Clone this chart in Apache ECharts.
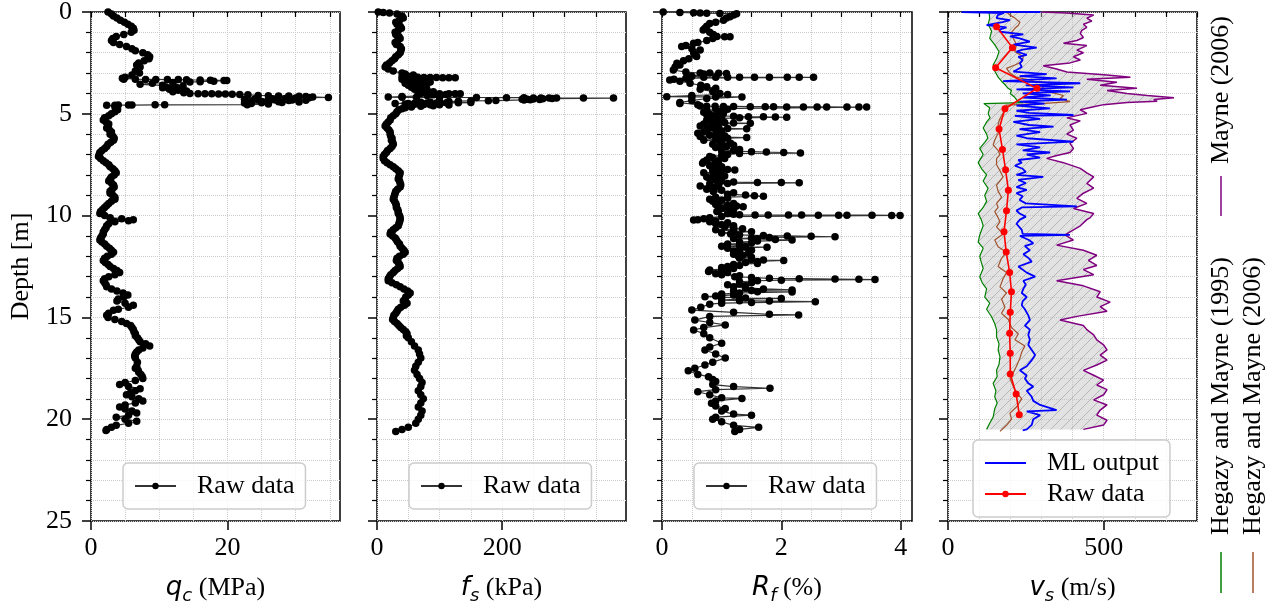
<!DOCTYPE html>
<html><head><meta charset="utf-8">
<script src="https://cdn.jsdelivr.net/npm/echarts@6/dist/echarts.min.js"></script>
<style>html,body{margin:0;padding:0;background:#fff}#c{width:1277px;height:610px}</style>
</head><body><div id="c"></div>
<script>
// ---------- DATA : [depth (m), value] ----------
const qcData = [[0.0,2.5],[0.1,3.0],[0.2,3.3],[0.3,3.8],[0.4,4.3],[0.5,4.9],[0.6,5.4],[0.7,5.9],[0.8,6.2],[0.9,6.3],[1.0,5.9],[1.1,4.8],[1.2,3.7],[1.3,3.2],[1.4,3.0],[1.5,3.3],[1.6,4.2],[1.7,5.2],[1.8,6.0],[1.9,6.5],[2.0,7.6],[2.1,8.3],[2.2,8.6],[2.3,8.5],[2.4,7.8],[2.5,7.0],[2.6,6.7],[2.7,7.2],[2.8,6.9],[2.9,6.5],[3.0,7.1],[3.1,6.0],[3.2,5.0],[3.25,4.6],
[3.3,4.8],[3.3,6.5],[3.31,8.0],[3.31,9.5],[3.32,11.2],[3.32,12.8],[3.33,14.0],[3.34,16.0],[3.35,17.5],[3.36,19.5],[3.37,19.9],[3.4,18.0],[3.42,16.0],[3.44,14.5],[3.46,12.0],[3.5,9.0],[3.55,7.2],[3.6,10.5],[3.62,12.0],[3.64,13.5],[3.68,11.0],[3.7,12.5],[3.72,10.5],[3.76,13.0],[3.8,11.5],[3.84,12.8],[3.88,14.0],[3.92,12.0],[3.96,13.6],[4.0,14.5],[4.01,15.7],[4.02,16.7],[4.02,17.7],[4.03,18.7],[4.03,19.7],[4.04,20.7],[4.05,21.8],[4.06,23.0],[4.1,24.5],[4.11,26.0],[4.12,27.5],[4.13,29.0],[4.14,30.5],[4.15,31.5],[4.17,32.5],[4.2,34.8],[4.21,32.0],[4.22,30.0],[4.25,28.5],[4.26,26.5],[4.27,24.0],[4.28,22.5],[4.3,24.5],[4.31,27.0],[4.32,29.5],[4.33,31.5],[4.35,29.0],[4.36,26.0],[4.37,23.5],[4.4,25.0],[4.41,27.5],[4.42,30.5],[4.45,28.0],[4.46,25.0],[4.47,22.5],[4.5,23.5],[4.52,26.0],[4.55,22.9],[4.56,10.8],[4.56,9.4],[4.57,6.0],[4.57,5.5],[4.57,4.0],[4.58,3.5],[4.58,2.3],[4.65,3.5],[4.7,3.8],[4.8,3.9],[4.9,3.5],
[5.0,3.0],[5.1,2.6],[5.2,2.0],[5.3,1.8],[5.4,2.2],[5.5,2.6],[5.6,2.5],[5.7,2.3],[5.8,2.7],[5.9,3.0],[6.0,2.8],[6.1,3.2],[6.2,3.4],[6.3,3.3],[6.4,2.9],[6.5,2.5],[6.6,2.3],[6.7,2.0],[6.8,1.6],[6.9,1.3],[7.0,1.2],[7.1,1.1],[7.2,1.4],[7.3,1.8],[7.4,2.2],[7.5,2.6],[7.6,2.8],[7.7,3.2],[7.8,3.5],[7.9,3.7],[8.0,3.4],[8.1,3.0],[8.2,2.8],[8.3,2.6],[8.4,3.0],[8.5,3.3],[8.6,3.4],[8.7,3.1],[8.8,2.8],[8.9,2.8],[9.0,3.2],[9.1,3.5],[9.2,3.5],[9.3,3.0],[9.4,2.6],[9.5,2.3],[9.6,2.0],[9.7,1.7],[9.8,1.4],[9.9,1.3],[10.0,2.0],[10.1,2.8],[10.15,4.5],[10.2,6.2],[10.25,5.5],[10.3,3.5],[10.4,2.6],[10.5,2.3],[10.6,2.2],[10.7,2.0],[10.8,1.8],[10.9,1.8],[11.0,1.6],[11.1,1.4],[11.2,1.3],[11.3,1.6],[11.4,2.0],[11.5,2.3],[11.6,2.7],[11.7,3.0],[11.8,3.3],[11.9,3.0],[12.0,2.4],[12.1,2.0],[12.2,1.8],[12.3,2.1],[12.4,2.5],[12.5,2.8],[12.6,3.3],[12.7,3.8],[12.8,4.2],[12.9,3.5],[13.0,2.6],[13.1,2.0],[13.2,1.8],[13.3,2.0],[13.4,2.2],[13.5,2.3],[13.6,3.0],[13.7,3.8],[13.8,4.7],[13.9,5.4],[14.0,4.8],[14.1,4.0],[14.2,3.8],[14.3,5.0],[14.4,6.2],[14.5,5.5],[14.6,4.0],[14.65,3.3],[14.8,2.6],[14.9,2.3],[15.0,2.5],[15.1,3.5],[15.2,4.5],[15.3,5.2],[15.4,5.8],[15.5,6.0],[15.6,6.2],[15.7,6.3],[15.8,6.5],[15.9,6.5],[16.0,6.8],[16.1,7.0],[16.2,7.2],[16.3,8.0],[16.4,8.6],[16.5,7.6],[16.6,7.0],[16.7,6.7],[16.8,6.5],[16.9,6.4],[17.0,6.5],[17.2,6.8],[17.4,6.7],[17.5,6.5],[17.6,6.9],[17.7,7.0],[17.8,7.3],[17.9,7.5],[18.0,7.6],[18.1,6.5],[18.2,5.0],[18.3,4.2],[18.4,5.5],[18.5,7.2],[18.6,6.5],[18.7,5.8],[18.8,5.2],[18.9,6.0],[19.0,7.0],[19.1,7.6],[19.2,6.5],[19.3,5.0],[19.4,4.2],[19.5,5.0],[19.6,6.0],[19.7,6.7],[19.8,5.5],[19.9,3.7],[20.0,5.0],[20.1,6.7],[20.2,5.5],[20.3,3.7],[20.4,3.0],[20.5,2.3],[20.55,2.2]];

const fsData = [[0.0,2],[0.02,10],[0.05,20],[0.1,32],[0.2,40],[0.3,42],[0.4,36],[0.5,30],[0.6,32],[0.7,37],[0.8,39],[0.9,34],[1.0,29],[1.1,30],[1.2,35],[1.3,37],[1.4,33],[1.5,29],[1.6,31],[1.7,37],[1.8,39],[1.9,38],[2.0,37],[2.1,34],[2.2,30],[2.3,28],[2.4,24],[2.5,20],[2.6,15],[2.7,13],[2.8,18],[2.9,26],
[3.0,40],[3.05,45],[3.1,58],[3.15,50],[3.18,40],[3.2,45],[3.21,55],[3.21,65],[3.22,75],[3.22,85],[3.22,95],[3.23,105],[3.23,115],[3.23,125],[3.27,60],[3.3,40],[3.32,60],[3.34,50],[3.36,75],[3.38,45],[3.4,55],[3.42,70],[3.44,85],[3.46,60],[3.5,45],[3.52,65],[3.54,80],[3.56,55],[3.6,50],[3.62,70],[3.64,60],[3.7,55],[3.72,75],[3.74,65],[3.8,60],[3.82,80],[3.84,70],[3.9,65],[3.92,90],[3.94,75],[4.0,70],[4.0,85],[4.01,100],[4.01,115],[4.02,125],[4.02,133],[4.05,110],[4.07,90],[4.1,80],[4.15,40],[4.18,18],[4.19,40],[4.19,63],[4.2,100],[4.2,159],[4.21,207],[4.21,235],[4.22,250],[4.22,262],[4.22,275],[4.23,287],[4.23,330],[4.23,378],[4.25,280],[4.26,265],[4.27,250],[4.28,240],[4.29,232],[4.3,260],[4.31,245],[4.32,235],[4.35,190],[4.36,178],[4.37,150],[4.38,130],[4.4,115],[4.41,100],[4.42,85],[4.43,70],[4.45,150],[4.46,130],[4.46,111],[4.47,95],[4.47,80],[4.48,60],[4.49,29],[4.5,50],[4.52,45],[4.53,60],[4.54,75],[4.55,85],[4.56,100],[4.57,115],[4.6,90],[4.63,70],[4.66,55],[4.7,45],[4.75,40],[4.8,35],[4.9,32],[5.0,30],
[5.1,26],[5.2,22],[5.3,21],[5.4,18],[5.5,15],[5.6,13],[5.7,16],[5.8,19],[5.9,21],[6.0,21],[6.1,22],[6.2,24],[6.3,23],[6.4,25],[6.5,26],[6.6,24],[6.7,21],[6.8,17],[6.9,15],[7.0,12],[7.1,10],[7.2,10],[7.3,12],[7.4,16],[7.5,21],[7.6,26],[7.7,30],[7.8,34],[7.9,37],[8.0,36],[8.1,35],[8.2,34],[8.3,36],[8.4,37],[8.5,38],[8.6,37],[8.7,33],[8.8,30],[8.9,29],[9.0,28],[9.1,27],[9.2,26],[9.3,28],[9.4,30],[9.5,31],[9.6,31],[9.7,33],[9.8,34],[9.9,34],[10.0,36],[10.1,37],[10.2,37],[10.3,36],[10.4,35],[10.5,34],[10.6,30],[10.7,26],[10.8,22],[10.9,21],[11.0,25],[11.1,29],[11.2,31],[11.3,33],[11.4,36],[11.5,37],[11.6,40],[11.7,43],[11.8,45],[11.9,42],[12.0,36],[12.1,32],[12.2,31],[12.3,34],[12.4,36],[12.5,37],[12.6,33],[12.7,29],[12.8,26],[12.9,22],[13.0,20],[13.1,18],[13.2,18],[13.3,24],[13.4,31],[13.5,37],[13.6,43],[13.7,49],[13.8,53],[13.9,50],[14.0,46],[14.1,45],[14.2,42],[14.3,48],[14.4,44],[14.5,38],[14.6,34],[14.7,32],[14.8,30],[14.9,27],[15.0,26],[15.1,25],[15.2,28],[15.3,32],[15.4,35],[15.5,38],[15.6,42],[15.7,46],[15.8,48],[15.9,47],[16.0,50],[16.2,55],[16.4,60],[16.6,66],[16.8,68],[17.0,70],[17.2,66],[17.4,62],[17.6,60],[17.8,64],[18.0,68],[18.2,72],[18.4,70],[18.6,66],[18.8,70],[19.0,74],[19.2,70],[19.4,66],[19.6,72],[19.8,70],[20.0,66],[20.2,62],[20.4,50],[20.5,40],[20.6,30]];

const rfData = [[0.0,0.02],[0.02,0.3],[0.04,0.53],[0.05,0.64],[0.06,0.75],[0.07,0.97],[0.08,1.25],[0.15,1.2],[0.23,1.14],[0.3,1.08],[0.4,1.03],[0.5,0.9],[0.56,0.8],[0.7,0.75],[0.8,0.72],[0.88,0.69],[1.0,0.8],[1.1,0.86],[1.2,0.92],[1.21,1.05],[1.22,1.14],[1.3,0.85],[1.4,0.75],[1.5,0.6],[1.54,0.53],[1.65,0.4],[1.7,0.33],[1.8,0.5],[1.87,0.64],[2.0,0.53],[2.1,0.55],[2.19,0.58],[2.3,0.45],[2.4,0.36],[2.52,0.25],[2.6,0.3],[2.7,0.22],[2.85,0.19],[2.95,0.4],[3.0,0.64],[3.0,0.8],[3.01,0.95],[3.02,1.08],[3.05,0.7],[3.15,0.5],
[3.2,0.47],[3.21,0.7],[3.21,0.9],[3.21,1.1],[3.21,1.3],[3.21,1.55],[3.21,1.8],[3.21,2.1],[3.21,2.3],[3.21,2.54],[3.25,0.4],[3.3,0.2],[3.34,0.13],[3.4,0.3],[3.5,0.47],[3.6,0.65],[3.67,0.75],[3.75,0.9],[3.8,0.64],[3.9,0.85],[4.0,0.97],[4.05,1.1],[4.1,0.5],[4.16,0.08],[4.17,0.5],[4.17,0.9],[4.17,1.34],[4.25,0.75],[4.35,0.5],[4.45,0.3],[4.49,0.3],[4.55,0.6],
[4.62,0.64],[4.63,0.75],[4.63,0.89],[4.64,1.03],[4.64,1.2],[4.65,1.48],[4.65,1.73],[4.65,1.87],[4.66,2.09],[4.66,2.37],[4.66,2.6],[4.66,2.76],[4.67,3.1],[4.67,3.3],[4.67,3.43],
[4.75,0.9],[4.78,1.1],[4.81,0.75],[4.85,1.0],[4.9,0.95],[4.93,0.7],[4.98,1.03],[5.02,0.8],[5.05,0.75],[5.1,0.9],[5.12,1.2],[5.14,1.45],[5.15,1.7],[5.16,1.9],[5.17,2.09],[5.2,1.3],[5.22,1.0],[5.26,0.8],[5.3,0.75],[5.34,1.0],[5.38,0.8],[5.4,0.9],[5.43,1.05],[5.45,1.2],[5.47,1.48],[5.5,0.7],[5.55,0.9],[5.6,0.64],[5.65,0.95],[5.7,0.8],[5.72,1.1],[5.74,1.42],[5.77,0.9],[5.8,0.75],[5.85,1.0],[5.9,0.7],[5.96,0.6],[6.0,0.9],[6.05,0.8],[6.08,1.05],[6.12,0.64],[6.15,1.0],[6.17,1.42],[6.2,1.1],[6.25,0.9],[6.3,0.7],[6.35,1.0],[6.4,0.97],[6.45,1.15],[6.5,0.85],[6.55,1.2],[6.6,1.08],[6.65,0.9],[6.7,1.0],[6.75,1.3],[6.8,1.2],[6.83,1.0],[6.86,1.5],[6.88,1.75],[6.9,2.04],[6.93,2.32],[6.95,1.3],[7.0,1.1],[7.05,1.0],[7.1,0.8],[7.15,0.85],[7.2,1.05],[7.27,0.75],[7.3,0.95],[7.35,0.7],[7.4,0.9],[7.43,0.68],[7.5,0.95],[7.55,0.8],[7.6,1.0],[7.65,0.85],[7.7,0.9],[7.73,1.1],[7.76,1.22],[7.8,0.85],[7.85,1.0],[7.9,0.7],[7.95,0.95],[8.0,0.86],[8.05,1.05],[8.1,0.75],[8.15,0.95],[8.2,0.8],[8.25,0.9],[8.3,1.0],[8.35,1.2],[8.37,1.6],[8.38,2.0],[8.39,2.3],[8.42,1.1],[8.45,0.8],[8.5,0.95],[8.55,0.64],[8.6,0.9],[8.65,0.8],[8.7,0.75],[8.75,1.0],[8.82,0.86],[8.88,1.2],[8.95,1.1],[8.99,1.4],[9.02,1.55],[9.05,1.7],[9.1,0.9],[9.15,1.1],[9.2,0.8],[9.25,1.0],[9.3,0.85],[9.35,0.95],[9.4,1.2],[9.45,0.9],[9.5,1.1],[9.53,1.25],[9.56,1.36],[9.6,1.1],[9.65,1.0],[9.7,1.2],[9.75,0.95],[9.8,0.92],[9.85,1.15],[9.9,1.1],[9.93,1.2],
[9.96,1.3],[9.97,1.56],[9.97,1.78],[9.97,2.12],[9.97,2.34],[9.98,2.62],[9.98,2.96],[9.98,3.1],[9.98,3.52],[9.99,3.85],[9.99,3.99],
[10.05,1.0],[10.1,0.8],[10.15,0.7],[10.2,0.6],[10.22,0.53],[10.26,0.9],[10.3,0.8],[10.35,1.1],[10.4,0.9],[10.45,1.0],[10.5,1.2],[10.55,1.05],[10.6,1.2],[10.65,1.35],[10.7,0.9],[10.75,1.2],[10.79,1.5],[10.82,1.2],[10.85,1.0],[10.9,1.15],[10.95,1.3],[10.98,1.7],[11.0,2.1],[11.02,2.5],[11.04,2.9],[11.07,1.8],[11.1,1.5],[11.13,1.2],[11.15,1.6],[11.18,1.9],[11.2,2.18],[11.25,1.6],[11.3,1.3],[11.35,1.5],[11.4,1.1],[11.45,1.3],[11.5,1.0],[11.53,1.4],[11.55,1.76],[11.6,1.1],[11.65,1.3],[11.7,1.5],[11.75,1.2],[11.8,1.3],[11.85,1.45],[11.9,1.2],[11.95,1.35],[12.0,1.28],[12.05,1.5],[12.1,1.3],[12.15,1.5],[12.18,1.7],[12.2,2.04],[12.25,1.6],[12.3,1.4],[12.35,1.6],[12.4,1.2],[12.45,1.3],[12.5,1.1],[12.55,1.0],[12.6,1.2],[12.67,0.8],[12.72,1.0],[12.75,0.78],[12.8,1.1],[12.85,0.9],[12.9,1.0],[12.95,1.3],[13.0,1.22],[13.04,1.5],[13.08,1.8],[13.1,2.3],[13.12,2.9],[13.13,3.3],[13.14,3.57],[13.17,2.0],[13.2,1.6],[13.25,1.3],[13.3,1.5],[13.35,1.3],[13.4,1.1],[13.45,1.4],[13.5,1.2],[13.55,1.4],[13.6,1.7],[13.65,2.18],[13.68,1.5],[13.7,1.2],[13.74,1.6],[13.75,2.18],[13.8,1.3],[13.85,1.0],[13.9,1.2],[13.95,0.9],[13.98,0.72],[14.0,1.0],[14.05,1.4],[14.07,2.0],[14.1,1.3],[14.15,1.0],[14.18,1.3],[14.2,1.8],[14.23,2.57],[14.27,1.5],[14.3,1.0],[14.35,0.8],
[14.5,0.65],[14.64,0.5],[14.75,1.2],[14.85,1.8],[14.88,2.29],[14.95,0.8],[15.13,0.55],[15.25,0.8],[15.37,1.06],[15.5,0.7],[15.62,0.53],[15.8,0.7],[16.0,0.8],[16.27,1.0],[16.45,0.8],[16.6,0.72],[16.8,0.9],[17.0,1.06],[17.2,0.85],[17.34,0.72],[17.5,0.55],[17.62,0.44],[17.8,0.6],[17.91,0.78],[18.05,0.85],[18.15,0.9],[18.3,0.85],[18.4,1.2],[18.48,1.81],[18.55,0.9],[18.65,0.6],[18.8,0.8],[18.95,1.0],[18.98,1.34],[19.1,0.9],[19.22,0.83],[19.35,0.9],[19.47,1.06],[19.6,1.0],[19.75,1.2],[19.8,1.5],[19.9,0.9],[20.0,0.85],[20.13,1.0],[20.3,1.2],[20.4,1.62],[20.5,1.3],[20.6,1.22]];

const vsHegazy1995 = [[0,132],[0.3,134],[0.6,129],[0.95,140],[1.3,134],[1.6,150],[1.95,164],[2.3,156],[2.6,145],[2.9,150],[3.2,161],[3.4,172],[3.6,185],[3.75,193],[3.85,204],[4.0,200],[4.2,215],[4.4,225],[4.45,242],[4.5,115],[4.7,134],[5.0,129],[5.2,135],[5.4,124],[5.7,113],[6.0,124],[6.2,128],[6.4,118],[6.7,102],[7.0,113],[7.2,105],[7.4,97],[7.7,108],[8.0,124],[8.3,113],[8.66,129],[9.0,118],[9.3,124],[9.6,113],[9.9,97],[10.2,107],[10.5,113],[10.95,102],[11.3,97],[11.6,113],[12.0,102],[12.3,107],[12.6,113],[13.0,102],[13.3,110],[13.6,124],[14.0,118],[14.3,134],[14.6,124],[14.97,140],[15.3,150],[15.6,156],[15.95,156],[16.3,164],[16.6,161],[16.93,167],[17.3,164],[17.6,156],[17.9,158],[18.24,145],[18.6,154],[18.9,150],[19.2,158],[19.5,150],[19.9,145],[20.2,134],[20.5,124]];

const vsHegazy2006 = [[0,188],[0.15,199],[0.3,215],[0.5,231],[0.65,226],[0.8,215],[1.0,204],[1.3,210],[1.6,220],[1.95,215],[2.2,242],[2.45,237],[2.6,215],[2.77,188],[3.0,199],[3.2,220],[3.4,280],[3.5,333],[3.65,310],[3.8,296],[3.95,330],[4.1,371],[4.25,360],[4.4,392],[4.5,300],[4.57,188],[4.8,183],[5.1,172],[5.3,165],[5.55,161],[5.8,167],[6.1,156],[6.3,150],[6.53,145],[6.8,161],[7.0,167],[7.2,156],[7.5,156],[7.8,167],[8.1,177],[8.3,167],[8.5,156],[8.8,161],[9.1,172],[9.4,156],[9.6,161],[9.8,150],[10.1,161],[10.3,167],[10.55,156],[10.9,177],[11.2,150],[11.53,161],[11.8,188],[12.1,172],[12.5,161],[12.8,188],[13.1,177],[13.5,167],[13.8,188],[14.1,172],[14.5,183],[14.8,172],[15.1,194],[15.5,204],[15.8,226],[16.1,215],[16.4,247],[16.7,237],[17.0,231],[17.4,220],[17.7,210],[18.0,199],[18.4,210],[18.7,220],[19.0,237],[19.4,220],[19.7,199],[20.0,204],[20.3,188],[20.6,167]];

const vsML = [[0,297],[0.01,44],[0.05,180],[0.15,160],[0.3,156],[0.4,199],[0.5,175],[0.64,124],[0.75,188],[0.85,167],[0.97,167],[1.1,242],[1.2,199],[1.3,230],[1.46,263],[1.6,210],[1.75,285],[1.85,240],[1.95,220],[2.1,253],[2.2,226],[2.35,240],[2.52,231],[2.7,237],[2.85,220],[2.93,210],[3.05,317],[3.15,230],[3.26,349],[3.4,177],[3.5,425],[3.6,250],[3.7,403],[3.8,220],[3.9,392],[4.0,240],[4.1,330],[4.2,240],[4.3,382],[4.4,230],[4.5,310],[4.6,220],[4.73,328],[4.85,220],[4.95,260],[5.06,403],[5.1,215],[5.25,296],[5.4,210],[5.55,260],[5.63,339],[5.75,230],[5.9,296],[6.07,220],[6.2,253],[6.37,403],[6.5,220],[6.65,296],[6.8,240],[6.9,328],[7.0,253],[7.15,296],[7.27,226],[7.4,237],[7.55,215],[7.7,240],[7.85,250],[8.0,220],[8.1,306],[8.25,226],[8.4,250],[8.6,220],[8.74,253],[8.9,220],[9.05,240],[9.23,230],[9.4,250],[9.55,414],[9.6,237],[9.75,220],[9.9,230],[10.05,250],[10.2,231],[10.4,220],[10.7,237],[10.9,240],[10.95,392],[11.0,231],[11.2,260],[11.36,274],[11.5,247],[11.7,263],[11.9,242],[12.1,260],[12.26,269],[12.5,226],[12.8,253],[13.0,280],[13.2,242],[13.4,250],[13.6,242],[13.8,237],[14.0,253],[14.2,240],[14.4,237],[14.6,247],[14.9,258],[15.13,263],[15.4,247],[15.6,263],[15.86,258],[16.1,263],[16.35,258],[16.6,269],[16.85,280],[17.1,269],[17.4,253],[17.6,231],[17.85,253],[18.0,247],[18.24,258],[18.4,274],[18.6,253],[18.9,269],[19.1,274],[19.3,296],[19.55,349],[19.62,253],[19.8,296],[20.0,274],[20.28,269],[20.5,253],[20.55,240]];

const vsMayne2006 = [[0,300],[0.05,380],[0.15,468],[0.3,446],[0.45,462],[0.6,435],[0.75,446],[0.9,430],[1.05,425],[1.25,435],[1.4,414],[1.54,371],[1.65,446],[1.87,414],[2.0,435],[2.2,403],[2.36,425],[2.5,392],[2.64,306],[2.8,349],[2.95,382],[3.1,511],[3.2,586],[3.3,446],[3.45,543],[3.6,489],[3.75,607],[3.85,511],[4.0,575],[4.1,640],[4.21,726],[4.3,661],[4.38,672],[4.45,575],[4.55,500],[4.65,468],[4.8,425],[4.98,446],[5.2,382],[5.35,425],[5.55,392],[5.8,403],[6.0,382],[6.2,414],[6.45,392],[6.7,403],[6.9,392],[7.05,350],[7.19,317],[7.4,371],[7.68,425],[7.9,446],[8.1,468],[8.42,446],[8.65,468],[8.9,435],[9.15,414],[9.4,446],[9.65,403],[9.9,468],[10.1,457],[10.2,446],[10.5,425],[10.95,376],[11.2,403],[11.45,349],[11.7,435],[11.95,478],[12.2,451],[12.45,478],[12.65,435],[12.9,468],[13.2,349],[13.45,435],[13.74,489],[14.0,478],[14.25,521],[14.47,489],[14.7,511],[14.95,414],[15.13,360],[15.4,435],[15.6,446],[15.86,468],[16.1,478],[16.35,500],[16.6,511],[16.85,489],[17.1,511],[17.34,478],[17.6,435],[17.84,468],[18.08,500],[18.32,478],[18.55,511],[18.8,500],[19.05,468],[19.3,511],[19.55,489],[19.8,478],[20.05,511],[20.28,500],[20.5,435]];

const vsRaw = [[0.72,156],[1.75,207],[2.74,153],[3.75,286],[4.75,183],[5.75,164],[6.75,175],[7.75,185],[8.75,194],[9.76,188],[10.79,180],[11.79,187],[12.79,198],[13.74,204],[14.75,200],[15.78,198],[16.76,200],[17.78,200],[18.76,219],[19.78,229]];

// ---------- TICKS ----------
const depthTicks = [0, 5, 10, 15, 20, 25];
const qcMajorTicks = [0, 20];   const qcMinorTicks = [0,5,10,15,20,25,30,35];
const fsMajorTicks = [0, 200];  const fsMinorTicks = [0,50,100,150,200,250,300,350];
const rfMajorTicks = [0, 2, 4]; const rfMinorTicks = [0,0.5,1,1.5,2,2.5,3,3.5,4];
const vsMajorTicks = [0, 500];  const vsMinorTicks = [0,100,200,300,400,500,600,700,800];

// ---------- CHART ----------
const SERIF = '"Liberation Serif", "DejaVu Serif", serif';
const MATH = '"DejaVu Sans", sans-serif';
const toXY = arr => arr.map(p => [p[1], p[0]]);

const panels = [
  {left: 91, width: 249, max: 36.5, major: qcMajorTicks, minor: qcMinorTicks, majStep: 20, minStep: 5, sym: 'q', sub: 'c', unit: '(MPa)'},
  {left: 377, width: 249, max: 398, major: fsMajorTicks, minor: fsMinorTicks, majStep: 200, minStep: 50, sym: 'f', sub: 's', unit: '(kPa)'},
  {left: 662, width: 250, max: 4.19, major: rfMajorTicks, minor: rfMinorTicks, majStep: 2, minStep: 0.5, sym: 'R', sub: 'f', unit: '(%)'},
  {left: 948, width: 249, max: 800, major: vsMajorTicks, minor: vsMinorTicks, majStep: 500, minStep: 100, sym: 'v', sub: 's', unit: '(m/s)'}
];

const gridLine = {color: '#cdcdcd', type: 'dotted', width: 1};
const grids = [], xAxes = [], yAxes = [];
panels.forEach((p, i) => {
  grids.push({left: p.left, width: p.width, top: 12, height: 509, show: true, containLabel: false,
    outerBoundsMode: 'none',
    borderColor: '#000', borderWidth: 1.5, backgroundColor: 'transparent'});
  xAxes.push({type: 'value', gridIndex: i, position: 'bottom', min: 0, max: p.max, interval: p.minStep,
    axisLine: {show: false},
    axisTick: {show: true, length: 5, customValues: p.minor, lineStyle: {color: '#000', width: 1.2}},
    axisLabel: {show: false}, splitLine: {show: true, lineStyle: gridLine}});
  xAxes.push({type: 'value', gridIndex: i, position: 'bottom', offset: 0, min: 0, max: p.max, interval: p.majStep,
    axisLine: {show: false},
    axisTick: {show: true, length: 9, customValues: p.major, lineStyle: {color: '#000', width: 1.5}},
    axisLabel: {show: true, customValues: p.major, fontSize: 26, fontFamily: SERIF, color: '#000', margin: 14},
    splitLine: {show: false},
    name: '{m|' + p.sym + '}{s|' + p.sub + '}{t| ' + p.unit + '}', nameLocation: 'middle', nameGap: 50,
    nameTextStyle: {rich: {
      m: {fontFamily: MATH, fontStyle: 'italic', fontSize: 26, color: '#000', lineHeight: 34, verticalAlign: 'middle'},
      s: {fontFamily: MATH, fontStyle: 'italic', fontSize: 18, color: '#000', lineHeight: 18, verticalAlign: 'bottom'},
      t: {fontFamily: SERIF, fontSize: 26, color: '#000', lineHeight: 34, verticalAlign: 'middle'}
    }}});
  yAxes.push({type: 'value', gridIndex: i, position: 'left', inverse: true, min: 0, max: 25, interval: 5,
    axisLine: {show: false},
    axisTick: {show: true, length: 9, customValues: depthTicks, lineStyle: {color: '#000', width: 1.5}},
    minorTick: {show: true, splitNumber: 5, length: 5, lineStyle: {color: '#000', width: 1.2}},
    splitLine: {show: true, lineStyle: gridLine},
    minorSplitLine: {show: true, lineStyle: gridLine},
    axisLabel: {show: i === 0, customValues: depthTicks, fontSize: 26, fontFamily: SERIF, color: '#000', margin: 19},
    name: i === 0 ? 'Depth [m]' : '', nameLocation: 'middle', nameGap: 57,
    nameTextStyle: {fontFamily: SERIF, fontSize: 26, color: '#000'}});
});

function hatchCanvas() {
  const c = document.createElement('canvas'); c.width = 10; c.height = 10;
  const g = c.getContext('2d');
  g.fillStyle = 'rgba(190,190,190,0.45)'; g.fillRect(0, 0, 10, 10);
  g.strokeStyle = 'rgba(130,130,130,0.45)'; g.lineWidth = 1;
  g.beginPath();
  g.moveTo(0, 10); g.lineTo(10, 0);
  g.moveTo(-5, 5); g.lineTo(5, -5);
  g.moveTo(5, 15); g.lineTo(15, 5);
  g.stroke();
  return c;
}
const hatch = hatchCanvas();

const rawStyle = (xi, yi, name, data) => ({
  type: 'line', name, xAxisIndex: xi, yAxisIndex: yi, data: toXY(data),
  symbol: 'circle', symbolSize: 7.5, showSymbol: true, showAllSymbol: true,
  lineStyle: {color: '#333', width: 1.2}, itemStyle: {color: '#000'},
  animation: false, z: 3
});

const series = [
  rawStyle(1, 0, 'Raw data#1', qcData),
  rawStyle(3, 1, 'Raw data#2', fsData),
  rawStyle(5, 2, 'Raw data#3', rfData),
  {type: 'custom', xAxisIndex: 7, yAxisIndex: 3, data: [[0, 0]], silent: true, z: 1, animation: false,
    renderItem: (params, api) => {
      const pts = [];
      vsHegazy1995.forEach(p => pts.push(api.coord([p[1], p[0]])));
      for (let k = vsMayne2006.length - 1; k >= 0; k--) { const p = vsMayne2006[k]; pts.push(api.coord([p[1], p[0]])); }
      return {type: 'polygon', shape: {points: pts}, style: {fill: {image: hatch, repeat: 'repeat'}, stroke: null}};
    }},
  {type: 'line', name: 'Hegazy and Mayne (1995)', xAxisIndex: 7, yAxisIndex: 3, data: toXY(vsHegazy1995),
    symbol: 'none', lineStyle: {color: '#008000', width: 1.2}, animation: false, z: 3},
  {type: 'line', name: 'Hegazy and Mayne (2006)', xAxisIndex: 7, yAxisIndex: 3, data: toXY(vsHegazy2006),
    symbol: 'none', lineStyle: {color: '#a0522d', width: 1.2}, animation: false, z: 3},
  {type: 'line', name: 'Mayne (2006)', xAxisIndex: 7, yAxisIndex: 3, data: toXY(vsMayne2006),
    symbol: 'none', lineStyle: {color: '#800080', width: 1.5}, animation: false, z: 3},
  {type: 'line', name: 'ML output', xAxisIndex: 7, yAxisIndex: 3, data: toXY(vsML),
    symbol: 'none', lineStyle: {color: '#0000ff', width: 1.8}, itemStyle: {color: '#0000ff'}, animation: false, z: 4},
  {type: 'line', name: 'Raw data#4', xAxisIndex: 7, yAxisIndex: 3, data: toXY(vsRaw),
    symbol: 'circle', symbolSize: 7, lineStyle: {color: '#ff0000', width: 1.6}, itemStyle: {color: '#ff0000'}, animation: false, z: 5}
];

const legendCommon = {
  formatter: n => n.split('#')[0], itemWidth: 41, itemHeight: 8, padding: [9, 11, 9, 11],
  backgroundColor: 'rgba(255,255,255,0.8)', borderColor: '#cccccc', borderWidth: 1.5, borderRadius: 5,
  textStyle: {fontFamily: SERIF, fontSize: 26, color: '#000', padding: [0, 0, 0, 16], lineHeight: 28},
  selectedMode: false
};
const legends = [
  Object.assign({}, legendCommon, {data: ['Raw data#1'], left: 123, top: 463}),
  Object.assign({}, legendCommon, {data: ['Raw data#2'], left: 409, top: 463}),
  Object.assign({}, legendCommon, {data: ['Raw data#3'], left: 694, top: 463}),
  Object.assign({}, legendCommon, {data: [{name: 'ML output', itemStyle: {color: 'rgba(0,0,0,0)', borderWidth: 0, opacity: 0}}, 'Raw data#4'],
    left: 973, top: 440, orient: 'vertical', itemGap: 3})
];

const sideFont = '26px ' + SERIF;
const graphic = [
  {type: 'text', x: 1221, y: 90, rotation: Math.PI / 2, style: {text: 'Mayne (2006)', font: sideFont, fill: '#000', align: 'center', verticalAlign: 'middle'}},
  {type: 'line', shape: {x1: 1221, y1: 176, x2: 1221, y2: 216}, style: {stroke: '#800080', lineWidth: 1.5}},
  {type: 'text', x: 1221, y: 396, rotation: Math.PI / 2, style: {text: 'Hegazy and Mayne (1995)', font: sideFont, fill: '#000', align: 'center', verticalAlign: 'middle'}},
  {type: 'line', shape: {x1: 1221, y1: 552, x2: 1221, y2: 593}, style: {stroke: '#008000', lineWidth: 1.5}},
  {type: 'text', x: 1253, y: 396, rotation: Math.PI / 2, style: {text: 'Hegazy and Mayne (2006)', font: sideFont, fill: '#000', align: 'center', verticalAlign: 'middle'}},
  {type: 'line', shape: {x1: 1253, y1: 552, x2: 1253, y2: 593}, style: {stroke: '#a0522d', lineWidth: 1.5}}
];

const chart = echarts.init(document.getElementById('c'), null, {renderer: 'canvas'});
chart.setOption({
  animation: false,
  backgroundColor: '#fff',
  grid: grids, xAxis: xAxes, yAxis: yAxes,
  legend: legends, series, graphic
});
</script></body></html>
